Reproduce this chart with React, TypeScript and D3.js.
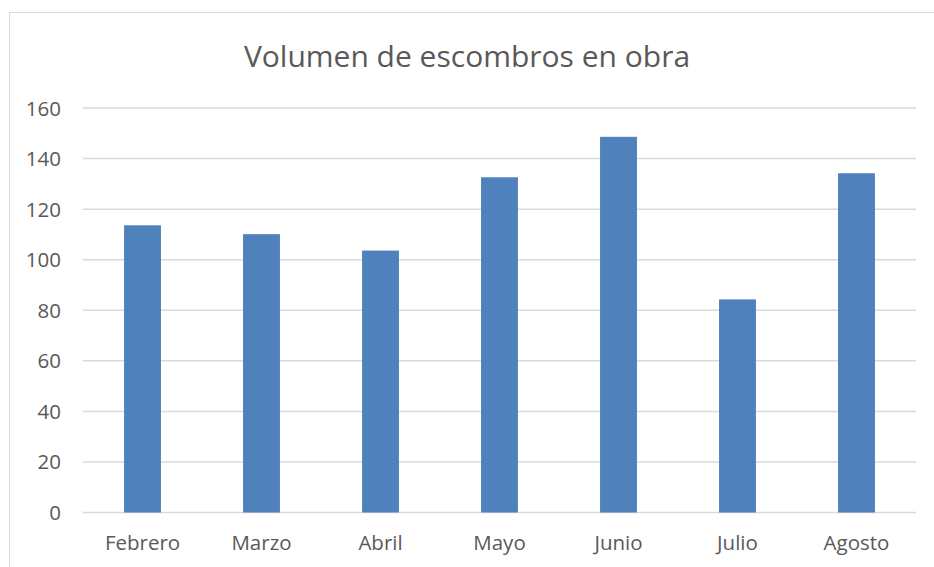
import React, { useEffect, useRef } from "react";
import * as d3 from "d3";

const months = ["Febrero", "Marzo", "Abril", "Mayo", "Junio", "Julio", "Agosto"];
const volumes = [113.6, 110.1, 103.6, 132.6, 148.6, 84.3, 134.2];
const yTicks = [0, 20, 40, 60, 80, 100, 120, 140, 160];

const W = 934;
const H = 567;

const App = () => {
  const ref = useRef<SVGSVGElement>(null);

  useEffect(() => {
    const svg = d3.select(ref.current);
    svg.selectAll("*").remove();

    const left = 83;
    const right = 916;
    const top = 108;
    const bottom = 512.5;

    const x = d3.scaleBand().domain(months).range([left, right]).paddingInner(0.69).paddingOuter(0.345);
    const y = d3.scaleLinear().domain([0, 160]).range([bottom, top]);

    // chart frame
    svg
      .append("rect")
      .attr("x", 9.5)
      .attr("y", 12.5)
      .attr("width", W)
      .attr("height", H)
      .attr("fill", "white")
      .attr("stroke", "#d9d9d9");

    svg
      .append("text")
      .text("Volumen de escombros en obra")
      .attr("x", 467)
      .attr("y", 67)
      .attr("text-anchor", "middle")
      .attr("font-family", "Open Sans")
      .attr("font-size", 30)
      .attr("fill", "#595959");

    svg
      .selectAll(".grid")
      .data(yTicks)
      .enter()
      .append("line")
      .attr("x1", left)
      .attr("x2", right)
      .attr("y1", (d) => y(d))
      .attr("y2", (d) => y(d))
      .attr("stroke", "#d9d9d9")
      .attr("stroke-width", 1.5);

    svg
      .selectAll(".ylab")
      .data(yTicks)
      .enter()
      .append("text")
      .text((d) => d)
      .attr("x", 61)
      .attr("y", (d) => y(d) + 7.5)
      .attr("text-anchor", "end")
      .attr("font-family", "Open Sans")
      .attr("font-size", 20.5)
      .attr("fill", "#595959");

    svg
      .selectAll(".bar")
      .data(volumes)
      .enter()
      .append("rect")
      .attr("x", (_, i) => x(months[i])!)
      .attr("width", x.bandwidth())
      .attr("y", (d) => y(d))
      .attr("height", (d) => y(0) - y(d))
      .attr("fill", "#4f81bd");

    svg
      .selectAll(".xlab")
      .data(months)
      .enter()
      .append("text")
      .text((d) => d)
      .attr("x", (d) => x(d)! + x.bandwidth() / 2)
      .attr("y", 550)
      .attr("text-anchor", "middle")
      .attr("font-family", "Open Sans")
      .attr("font-size", 20.5)
      .attr("fill", "#595959");
  }, []);

  return (
    <svg
      ref={ref}
      width={W}
      height={H}
      style={{ position: "absolute", left: 0, top: 0, background: "white" }}
    />
  );
};

export default App;
